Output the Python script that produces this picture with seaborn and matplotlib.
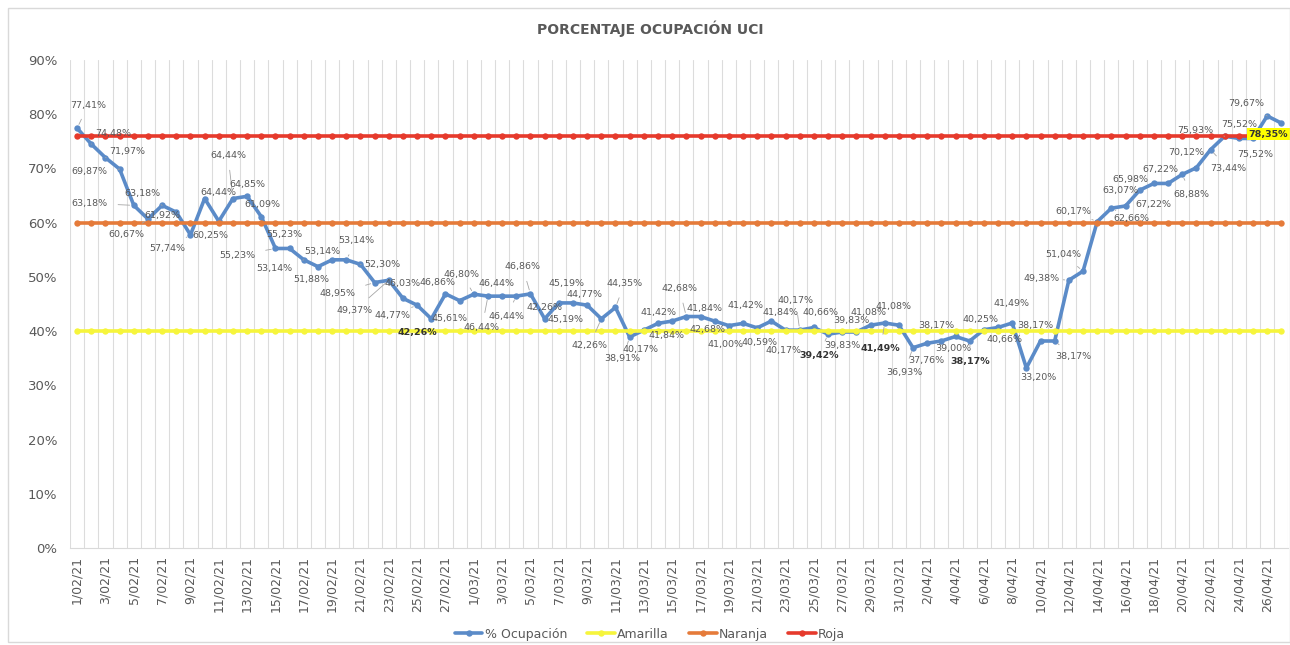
import numpy as np
import pandas as pd
import matplotlib
matplotlib.use("Agg")
import matplotlib.pyplot as plt
from matplotlib.patches import Rectangle
import seaborn as sns

# data (1/02/21 .. 27/04/21)
dates = pd.date_range("2021-02-01", "2021-04-27", freq="D")
date_labels = [f"{d.day}/{d.month:02d}/{d.year % 100}" for d in dates]

ocupacion = [77.41, 74.48, 71.97, 69.87, 63.18, 60.67, 63.18, 61.92, 57.74, 64.44,
             60.25, 64.44, 64.85, 61.09, 55.23, 55.23, 53.14, 51.88, 53.14, 53.14,
             52.30, 48.95, 49.37, 46.03, 44.77, 42.26, 46.86, 45.61, 46.80, 46.44,
             46.44, 46.44, 46.86, 42.26, 45.19, 45.19, 44.77, 42.26, 44.35, 38.91,
             40.17, 41.42, 41.84, 42.68, 42.68, 41.84, 41.00, 41.42, 40.59, 41.84,
             40.17, 40.17, 40.66, 39.42, 39.83, 39.83, 41.08, 41.49, 41.08, 36.93,
             37.76, 38.17, 39.00, 38.17, 40.25, 40.66, 41.49, 33.20, 38.17, 38.17,
             49.38, 51.04, 60.17, 62.66, 63.07, 65.98, 67.22, 67.22, 68.88, 70.12,
             73.44, 75.93, 75.52, 75.52, 79.67, 78.35]
amarilla = [40] * len(dates)
naranja = [60] * len(dates)
roja = [76] * len(dates)

# label offsets (pixels, +y = up) as placed in the original chart
label_offsets = [(11, 23), (22, 11), (22, 6), (-30, -2), (-44, 2), (-22, -16), (-20, 12),
                 (-14, -3), (-23, -14), (14, 6), (-8, -14), (-5, 43), (0, 12), (1, 12),
                 (-38, -7), (-5, 14), (-29, -9), (-7, -13), (-10, 8), (10, 19), (22, 0),
                 (-37, -11), (-34, -30), (0, 15), (-25, -10), (-14, -14), (-8, 11),
                 (-10, -18), (-12, 20), (-6, -31), (-6, 13), (-10, -20), (-8, 27),
                 (0, 11), (8, 19), (-7, -17), (-3, 11), (-12, -27), (9, 24), (-7, -22),
                 (-3, -19), (1, 11), (-6, -14), (-7, 28), (7, -13), (-10, 13), (-3, -19),
                 (2, 18), (2, -15), (9, 9), (-2, -20), (-4, 30), (7, 15), (-9, -21),
                 (0, -14), (-5, 11), (-2, 13), (-4, -26), (-5, 19), (-9, -25), (-1, -17),
                 (-5, 15), (-2, -12), (1, -21), (-3, 10), (6, -12), (-1, 19), (12, -10),
                 (-5, 15), (19, -16), (-27, 2), (-20, 17), (-24, 10), (20, -10), (-5, 15),
                 (-9, 11), (0, -21), (-8, 14), (9, -20), (-10, 15), (18, -19), (-29, 6),
                 (0, 14), (2, -16), (-21, 12), (-13, -11)]
bold_labels = {25, 53, 57, 63, 85}

df = pd.DataFrame({"idx": np.arange(len(dates)), "ocupacion": ocupacion,
                   "amarilla": amarilla, "naranja": naranja, "roja": roja})

sns.set_theme(style="white")
plt.rcParams['font.family'] = ['DejaVu Sans']

gray = "#595959"
fig = plt.figure(figsize=(12.9, 6.45), dpi=100)
ax = fig.add_axes([0.0543, 0.1504, 0.9445, 0.7567])

series = [("ocupacion", "% Ocupación", "#5b8bc8"),
          ("amarilla", "Amarilla", "#f6f53c"),
          ("naranja", "Naranja", "#e57b3a"),
          ("roja", "Roja", "#e63a2c")]
for z, (col, name, color) in enumerate(series):
    sns.lineplot(data=df, x="idx", y=col, ax=ax, color=color, linewidth=2.6,
                 marker="o", markersize=4.6, markeredgewidth=0, label=name,
                 zorder=3 + z)

# data labels
for i, v in enumerate(ocupacion):
    dx, dy = label_offsets[i]
    kw = dict(fontsize=6.8, color=gray, ha="center", va="center", zorder=10)
    if i in bold_labels:
        kw.update(fontweight="bold", color="#333333")
    if i == len(ocupacion) - 1:
        kw.update(bbox=dict(boxstyle="square,pad=0.15", fc="#ffff00", ec="none"))
    elif np.hypot(dx, dy) > 21:
        kw.update(arrowprops=dict(arrowstyle="-", color="#a6a6a6", lw=0.6,
                                  shrinkA=5, shrinkB=3))
    ax.annotate(f"{v:.2f}%".replace(".", ","), (i, v), xytext=(dx, dy),
                textcoords="offset pixels", **kw)

ax.set_xlim(-0.5, len(dates) - 0.5)
ax.set_ylim(0, 90)
ax.set_yticks(range(0, 91, 10))
ax.set_yticklabels([f"{t}%" for t in range(0, 91, 10)], fontsize=9.5, color=gray)
ax.set_xticks(range(0, len(dates), 2))
ax.set_xticklabels(date_labels[::2], rotation=90, fontsize=9, color=gray)
ax.set_xticks(np.arange(-0.5, len(dates), 2), minor=True)
ax.tick_params(axis="y", length=0, pad=9)
ax.tick_params(axis="x", which="major", length=0, pad=6)
ax.tick_params(axis="x", which="minor", length=5, color="#d9d9d9", width=0.8)
ax.set_xlabel("")
ax.set_ylabel("")

# vertical gridlines at every category boundary
for b in np.arange(-0.5, len(dates), 1):
    ax.axvline(b, color="#dcdcdc", lw=0.8, zorder=1)
for s in ["top", "right", "left"]:
    ax.spines[s].set_visible(False)
ax.spines["bottom"].set_color("#d9d9d9")
ax.spines["bottom"].set_linewidth(0.8)

fig.text(0.504, 0.955, "PORCENTAJE OCUPACIÓN UCI", ha="center", va="center",
         fontsize=10, fontweight="bold", color=gray)

handles, labels = ax.get_legend_handles_labels()
ax.legend(handles, labels, loc="center", bbox_to_anchor=(0.504, 0.017),
          bbox_transform=fig.transFigure, ncol=4, frameon=False, fontsize=9,
          handlelength=2.2, handletextpad=0.2, columnspacing=1.6,
          labelcolor=gray)

fig.add_artist(Rectangle((0.006, 0.004), 0.994, 0.984, transform=fig.transFigure,
                         fill=False, edgecolor="#d9d9d9", lw=1))

fig.savefig("out.png", dpi=100)
